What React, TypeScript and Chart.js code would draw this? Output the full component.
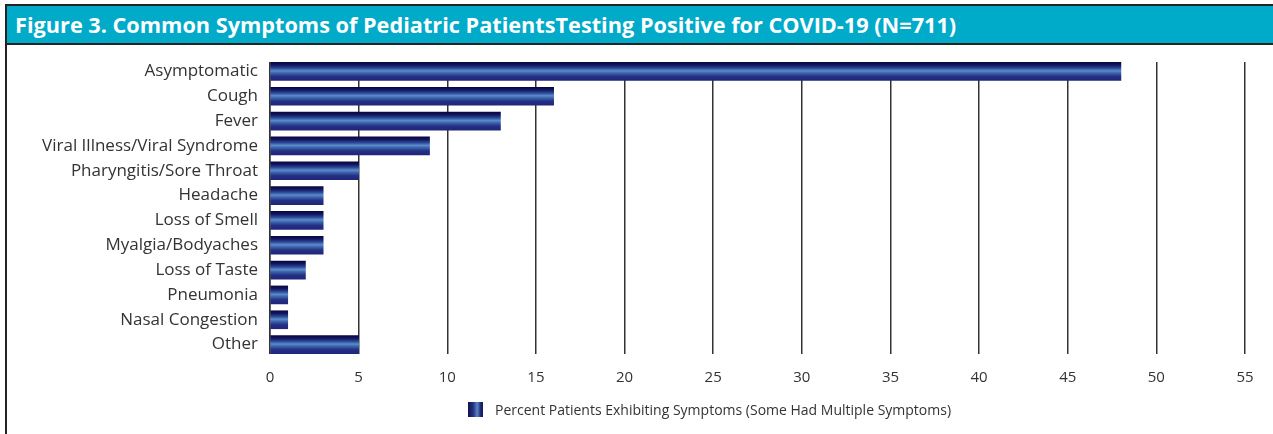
import React, { useEffect, useRef } from "react";
import { Chart, registerables } from "chart.js";

Chart.register(...registerables);

const titleText =
  "Figure 3. Common Symptoms of Pediatric PatientsTesting Positive for COVID-19 (N=711)";
const seriesLabel =
  "Percent Patients Exhibiting Symptoms (Some Had Multiple Symptoms)";

const categories = [
  "Asymptomatic",
  "Cough",
  "Fever",
  "Viral Illness/Viral Syndrome",
  "Pharyngitis/Sore Throat",
  "Headache",
  "Loss of Smell",
  "Myalgia/Bodyaches",
  "Loss of Taste",
  "Pneumonia",
  "Nasal Congestion",
  "Other",
];

const percentValues = [48, 16, 13, 9, 5, 3, 3, 3, 2, 1, 1, 5];

const xTickValues = [0, 5, 10, 15, 20, 25, 30, 35, 40, 45, 50, 55];

const FONT = "'Open Sans', 'Noto Sans', sans-serif";
const TEXT_COLOR = "#333333";
const BAR_THICKNESS = 18;
const GRID_INSET = 3;

export default function App() {
  const canvasRef = useRef<HTMLCanvasElement | null>(null);

  useEffect(() => {
    const canvas = canvasRef.current;
    if (!canvas) return;

    const barFill = (ctx: any) => {
      const chart = ctx.chart;
      const ys = chart.scales && chart.scales.y;
      if (!ys || ctx.dataIndex === undefined) return "#1c2470";
      const c = ys.getPixelForValue(ctx.dataIndex);
      if (!Number.isFinite(c)) return "#1c2470";
      const h = BAR_THICKNESS / 2;
      const g = chart.ctx.createLinearGradient(0, c - h, 0, c + h);
      g.addColorStop(0, "#07073f");
      g.addColorStop(0.15, "#121660");
      g.addColorStop(0.33, "#2f4c9a");
      g.addColorStop(0.47, "#5a8ccc");
      g.addColorStop(0.6, "#3b62aa");
      g.addColorStop(0.78, "#252f84");
      g.addColorStop(1, "#20267a");
      return g;
    };

    // Grid lines in the original stop a few pixels short of the plot edges.
    const gridTrim = {
      id: "gridTrim",
      beforeDatasetsDraw(chart: any) {
        const { ctx, chartArea } = chart;
        ctx.save();
        ctx.fillStyle = "#ffffff";
        ctx.fillRect(
          chartArea.left - 2,
          chartArea.top - 1,
          chartArea.right - chartArea.left + 4,
          GRID_INSET + 1
        );
        ctx.fillRect(
          chartArea.left - 2,
          chartArea.bottom - GRID_INSET,
          chartArea.right - chartArea.left + 4,
          GRID_INSET + 1
        );
        ctx.restore();
      },
    };

    const chart = new Chart(canvas, {
      type: "bar",
      data: {
        labels: categories,
        datasets: [
          {
            label: seriesLabel,
            data: percentValues,
            backgroundColor: barFill as any,
            borderWidth: 0,
            barThickness: BAR_THICKNESS,
          },
        ],
      },
      options: {
        indexAxis: "y",
        responsive: false,
        animation: false,
        devicePixelRatio: 1,
        layout: { padding: { top: 14, right: 28, left: 0, bottom: 0 } },
        plugins: {
          legend: { display: false },
          tooltip: { enabled: false },
          title: { display: false },
        },
        scales: {
          x: {
            min: 0,
            max: 55,
            afterBuildTicks: (s: any) => {
              s.ticks = xTickValues.map((v) => ({ value: v }));
            },
            afterFit: (s: any) => {
              s.height = 77;
              s.paddingLeft = 0;
              s.paddingRight = 0;
            },
            grid: {
              color: "#333333",
              lineWidth: 1.5,
              drawTicks: false,
            },
            border: { display: false },
            ticks: {
              color: TEXT_COLOR,
              font: { family: FONT, size: 15 },
              padding: 12,
              maxRotation: 0,
            },
          },
          y: {
            afterFit: (s: any) => {
              s.width = 263;
              s.paddingTop = 0;
              s.paddingBottom = 0;
            },
            grid: { display: false, drawTicks: false },
            border: { display: true, color: "#333333", width: 1.5 },
            ticks: {
              color: TEXT_COLOR,
              font: { family: FONT, size: 17 },
              padding: 12,
              autoSkip: false,
            },
          },
        },
      },
      plugins: [gridTrim],
    });

    return () => {
      chart.destroy();
    };
  }, []);

  return (
    <div
      style={{
        position: "absolute",
        left: 0,
        top: 0,
        width: 1273,
        height: 434,
        background: "#ffffff",
        overflow: "hidden",
      }}
    >
      <div
        style={{
          position: "absolute",
          left: 5,
          top: 4,
          width: 1300,
          height: 460,
          borderLeft: "2px solid #222222",
          borderTop: "2px solid #222222",
          boxSizing: "border-box",
        }}
      />
      <div
        style={{
          position: "absolute",
          left: 7,
          top: 6,
          width: 1266,
          height: 37,
          background: "#00aac9",
          borderBottom: "2px solid #222222",
          color: "#ffffff",
          fontFamily: FONT,
          fontWeight: 700,
          fontSize: 21.7,
          lineHeight: "37px",
          paddingLeft: 8,
          whiteSpace: "nowrap",
          boxSizing: "content-box",
        }}
      >
        {titleText}
      </div>
      <canvas
        ref={canvasRef}
        width={1266}
        height={389}
        style={{
          position: "absolute",
          left: 7,
          top: 45,
          width: 1266,
          height: 389,
        }}
      />
      <div
        style={{
          position: "absolute",
          left: 468,
          top: 402,
          width: 15,
          height: 15,
          background:
            "linear-gradient(to right, #101050 0%, #23357f 35%, #5a85c8 62%, #1c2672 85%, #141a5a 100%)",
        }}
      />
      <div
        style={{
          position: "absolute",
          left: 495,
          top: 400,
          fontFamily: FONT,
          fontSize: 14,
          lineHeight: "20px",
          color: TEXT_COLOR,
          whiteSpace: "nowrap",
        }}
      >
        {seriesLabel}
      </div>
    </div>
  );
}
